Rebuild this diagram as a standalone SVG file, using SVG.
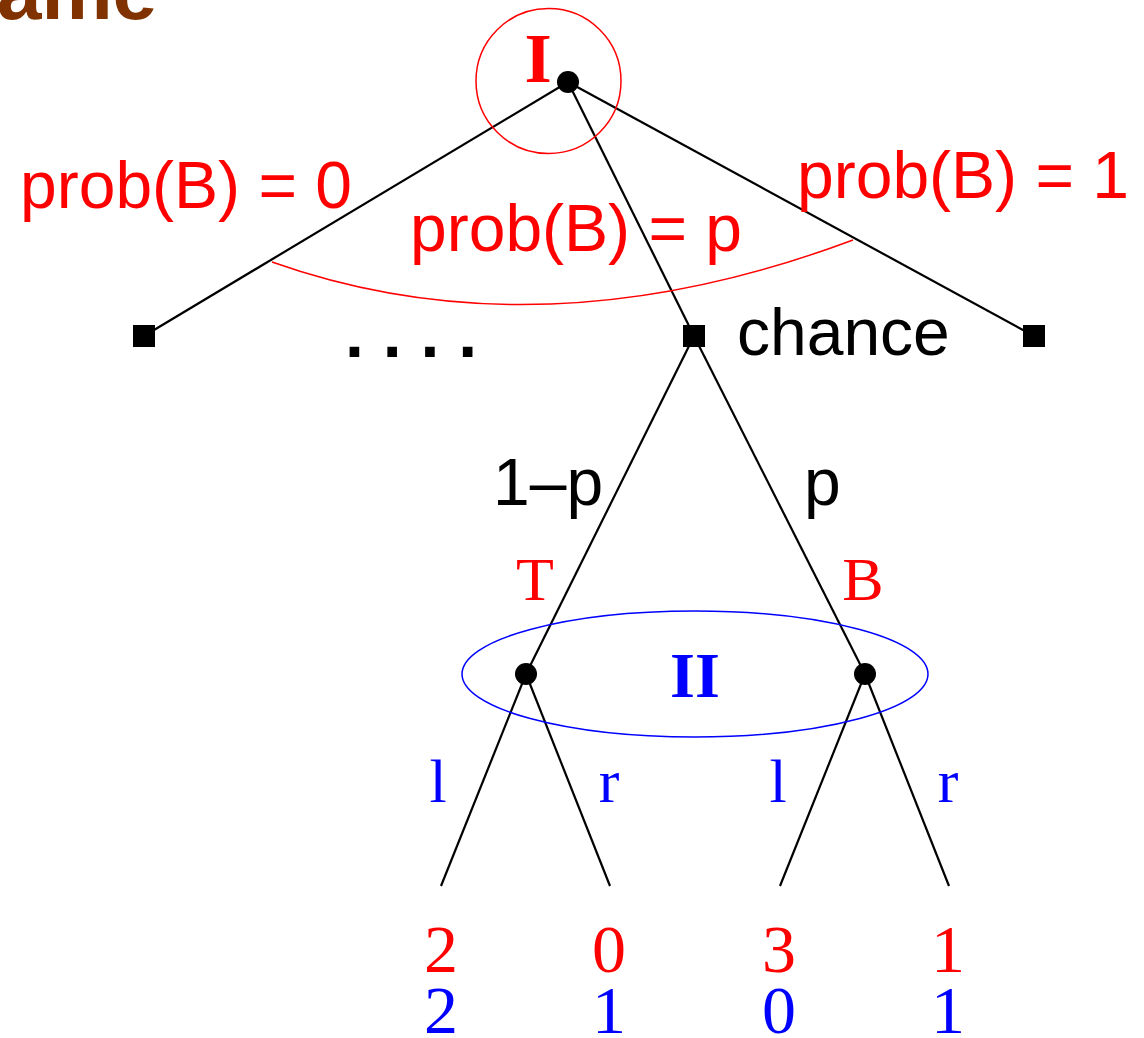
<svg xmlns="http://www.w3.org/2000/svg" width="1144" height="1038" viewBox="0 0 1144 1038">
<style>
.sans{font-family:"Liberation Sans",Arial,sans-serif}
.serif{font-family:"Liberation Serif","Times New Roman",serif}
.edge{stroke:#000;stroke-width:2.2;fill:none}
.red{fill:#ff0000}
.blue{fill:#0000ff}
.blk{fill:#000}
</style>
<rect width="1144" height="1038" fill="#fff"/>
<text class="sans" x="157" y="19" font-size="80" font-weight="bold" fill="#803300" text-anchor="end">Game</text>
<g id="connectors">
<line class="edge" x1="568" y1="82" x2="144" y2="336"/>
<line class="edge" x1="568" y1="82" x2="694" y2="336"/>
<line class="edge" x1="568" y1="82" x2="1034" y2="336"/>
<line class="edge" x1="694" y1="336" x2="526" y2="674"/>
<line class="edge" x1="694" y1="336" x2="865" y2="674"/>
<line class="edge" x1="526" y1="674" x2="441" y2="886"/>
<line class="edge" x1="526" y1="674" x2="610" y2="886"/>
<line class="edge" x1="865" y1="674" x2="780" y2="886"/>
<line class="edge" x1="865" y1="674" x2="949" y2="886"/>
<path d="M272,262 Q540,357 853,240" fill="none" stroke="#ff0000" stroke-width="1.5"/>
</g>
<g id="node-I">
<circle cx="548.5" cy="81" r="72.5" fill="none" stroke="#ff0000" stroke-width="1.5"/>
<text class="serif red" x="538" y="82" font-size="70" font-weight="bold" text-anchor="middle">I</text>
<circle cx="568" cy="82" r="11" class="blk"/>
</g>
<g id="leaf-left"><rect x="133" y="325" width="22" height="22" class="blk"/></g>
<g id="dots"><text class="sans blk" x="345" y="357" font-size="68" font-weight="bold">. . . .</text></g>
<g id="node-chance">
<rect x="683" y="325" width="22" height="22" class="blk"/>
<text class="sans blk" x="737" y="355" font-size="66">chance</text>
</g>
<g id="leaf-right"><rect x="1023" y="325" width="22" height="22" class="blk"/></g>
<g id="labels-top">
<text class="sans red" x="20" y="208" font-size="66">prob(B) = 0</text>
<text class="sans red" x="410" y="251" font-size="66">prob(B) = p</text>
<text class="sans red" x="797" y="198" font-size="66">prob(B) = 1</text>
</g>
<g id="labels-chance">
<text class="sans blk" x="493" y="505" font-size="66">1–p</text>
<text class="sans blk" x="804" y="505" font-size="66">p</text>
<text class="serif red" x="535" y="600" font-size="62" text-anchor="middle">T</text>
<text class="serif red" x="863" y="600" font-size="62" text-anchor="middle">B</text>
</g>
<g id="infoset-II">
<ellipse cx="695" cy="674" rx="233" ry="63" fill="none" stroke="#0000ff" stroke-width="1.5"/>
<text class="serif blue" x="695" y="697" font-size="64" font-weight="bold" text-anchor="middle">II</text>
</g>
<g id="node-T"><circle cx="526" cy="674" r="11" class="blk"/></g>
<g id="node-B"><circle cx="865" cy="674" r="11" class="blk"/></g>
<g id="labels-II" class="serif" font-size="62" text-anchor="middle">
<text class="blue" x="438" y="802">l</text>
<text class="blue" x="609" y="802">r</text>
<text class="blue" x="778" y="802">l</text>
<text class="blue" x="948" y="802">r</text>
</g>
<g id="payoffs" class="serif" font-size="68" text-anchor="middle">
<text class="red" x="441" y="972">2</text>
<text class="red" x="609" y="972">0</text>
<text class="red" x="779" y="972">3</text>
<text class="red" x="948" y="972">1</text>
<text class="blue" x="441" y="1033">2</text>
<text class="blue" x="609" y="1033">1</text>
<text class="blue" x="779" y="1033">0</text>
<text class="blue" x="948" y="1033">1</text>
</g>
</svg>
